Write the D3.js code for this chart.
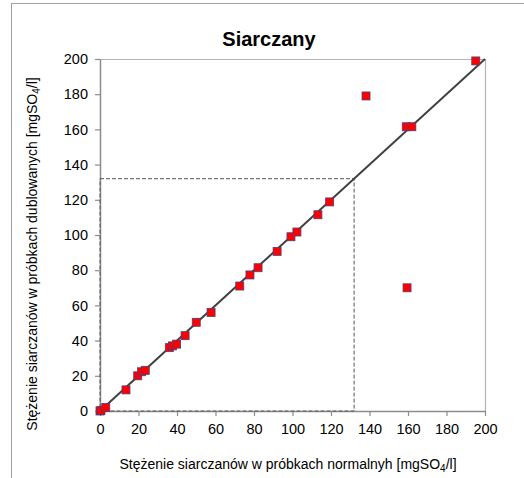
<!DOCTYPE html>
<html>
<head>
<meta charset="utf-8">
<script src="https://cdn.jsdelivr.net/npm/d3@7"></script>
<style>
  html, body { margin: 0; padding: 0; background: #fff; }
  svg { display: block; font-family: "Liberation Sans", Arial, sans-serif; }
</style>
</head>
<body>
<svg id="chart" width="524" height="478"></svg>
<script>
// Sulphate concentration: normal samples (x) vs duplicate samples (y), mg SO4/l
const normalSamples = [0, 0.5, 3, 13.5, 19.6, 21.6, 23.5, 36, 37.7, 39.8, 44.2, 50, 57.7,
  72.6, 77.9, 82.1, 92, 99.2, 102.3, 113.2, 119.3, 138.2, 159.1, 162, 159.5, 195.2];
const duplicateSamples = [0, 0.3, 2, 12, 20, 22.3, 23.1, 36, 37, 38, 42.8, 50.4, 56,
  71, 77.3, 81.4, 90.7, 99, 101.7, 111.5, 118.8, 179, 161.5, 161.5, 70, 198.9];
const tickValues = [0, 20, 40, 60, 80, 100, 120, 140, 160, 180, 200];
const identityLine = [0, 200];
const limitBox = [0, 132];

const titleText = "Siarczany";
const xTitle = "Stężenie siarczanów w próbkach normalnyh [mgSO";
const yTitle = "Stężenie siarczanów w próbkach dublowanych [mgSO";

const svg = d3.select("#chart");

// outer chart frame
svg.append("rect")
  .attr("x", 11.5).attr("y", 3.5)
  .attr("width", 540).attr("height", 500)
  .attr("fill", "none").attr("stroke", "#a0a0a0").attr("stroke-width", 1);

const x = d3.scaleLinear().domain([0, 200]).range([100, 485]);
const y = d3.scaleLinear().domain([0, 200]).range([411, 59]);

// plot area border (top and right)
svg.append("path")
  .attr("d", `M${x(0)},${y(200) + 0.5}H${x(200) + 0.5}V${y(0)}`)
  .attr("fill", "none").attr("stroke", "#b4b4b4").attr("stroke-width", 1.2);

// axes
const xAxis = svg.append("g")
  .attr("transform", `translate(0,${y(0)})`)
  .call(d3.axisBottom(x).tickValues(tickValues).tickSize(5).tickPadding(8).tickSizeOuter(0));
const yAxis = svg.append("g")
  .attr("transform", `translate(${x(0)},0)`)
  .call(d3.axisLeft(y).tickValues(tickValues).tickSize(5).tickPadding(7).tickSizeOuter(0));

[xAxis, yAxis].forEach(g => {
  g.select(".domain").attr("stroke", "#8c8c8c").attr("stroke-width", 1.5);
  g.selectAll(".tick line").attr("stroke", "#8c8c8c").attr("stroke-width", 1.2);
  g.selectAll(".tick text")
    .attr("fill", "#000")
    .style("font-family", "'Liberation Sans', Arial, sans-serif")
    .style("font-size", "14.5px");
});

// dashed limit rectangle
svg.append("rect")
  .attr("x", x(limitBox[0])).attr("y", y(limitBox[1]))
  .attr("width", x(limitBox[1]) - x(limitBox[0]))
  .attr("height", y(limitBox[0]) - y(limitBox[1]))
  .attr("fill", "none").attr("stroke", "#555").attr("stroke-width", 1)
  .attr("stroke-dasharray", "4,2");

// y = x reference line
svg.append("line")
  .attr("x1", x(identityLine[0])).attr("y1", y(identityLine[0]))
  .attr("x2", x(identityLine[1])).attr("y2", y(identityLine[1]))
  .attr("stroke", "#404040").attr("stroke-width", 2);

// sample markers
const ms = 8;
svg.append("g").selectAll("rect")
  .data(normalSamples.map((v, i) => [v, duplicateSamples[i]]))
  .join("rect")
  .attr("x", d => x(d[0]) - ms / 2)
  .attr("y", d => y(d[1]) - ms / 2)
  .attr("width", ms).attr("height", ms)
  .attr("fill", "#ff0000")
  .attr("stroke", "#4b3f7a").attr("stroke-width", 0.8);

// title
svg.append("text")
  .attr("x", 269).attr("y", 46)
  .attr("text-anchor", "middle")
  .style("font-size", "20px").style("font-weight", "bold")
  .text(titleText);

// x axis title with subscript
const xt = svg.append("text")
  .attr("x", 288).attr("y", 469)
  .attr("text-anchor", "middle")
  .style("font-size", "14px");
xt.append("tspan").text(xTitle);
xt.append("tspan").attr("dy", 3).style("font-size", "10px").text("4");
xt.append("tspan").attr("dy", -3).text("/l]");

// y axis title with subscript
const yt = svg.append("text")
  .attr("transform", "translate(37,254) rotate(-90)")
  .attr("text-anchor", "middle")
  .style("font-size", "14px");
yt.append("tspan").text(yTitle);
yt.append("tspan").attr("dy", 3).style("font-size", "10px").text("4");
yt.append("tspan").attr("dy", -3).text("/l]");
</script>
</body>
</html>
